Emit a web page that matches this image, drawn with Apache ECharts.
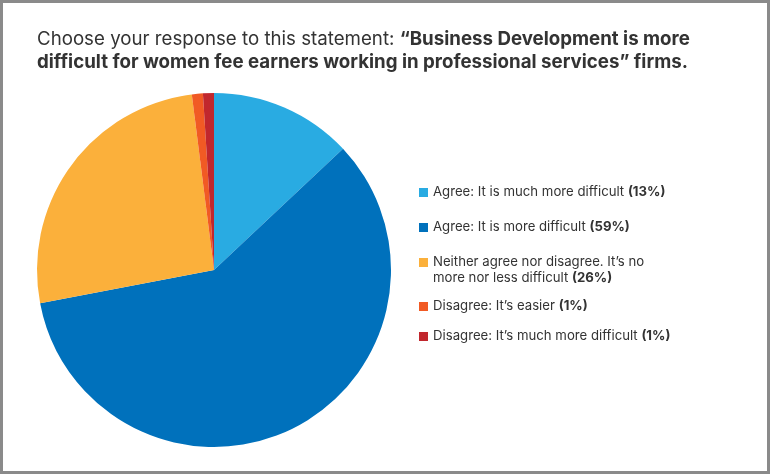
<!DOCTYPE html>
<html>
<head>
<meta charset="utf-8">
<script src="https://cdn.jsdelivr.net/npm/echarts@6/dist/echarts.min.js"></script>
<style>
html,body{margin:0;padding:0;background:#fff;}
#wrap{position:relative;width:770px;height:474px;}
#chart{position:absolute;left:0;top:0;width:770px;height:474px;}
#frame{position:absolute;left:0;top:0;width:770px;height:474px;box-sizing:border-box;border:3px solid #8a8a8a;pointer-events:none;}
</style>
</head>
<body>
<div id="wrap"><div id="chart"></div><div id="frame"></div></div>
<script>
const titleRegular = "Choose your response to this statement: ";
const titleBold1 = "\u201cBusiness Development is more";
const titleBold2 = "difficult for women fee earners working in professional services\u201d firms.";
const categories = [
  "Agree: It is much more difficult",
  "Agree: It is more difficult",
  "Neither agree nor disagree. It\u2019s no\nmore nor less difficult",
  "Disagree: It\u2019s easier",
  "Disagree: It\u2019s much more difficult"
];
const values = [13, 59, 26, 1, 1];
const colors = ["#29abe2", "#0071bc", "#fbb03b", "#f15a24", "#c1272d"];

const FONT = "Inter";
const LFS = 13.2;
const legendTops = [181, 216, 251, 295, 325];

const chart = echarts.init(document.getElementById('chart'), null, {renderer: 'canvas'});

const legends = categories.map((c, i) => ({
  orient: 'vertical',
  left: 414,
  top: legendTops[i],
  data: [c],
  icon: 'rect',
  itemWidth: 9,
  itemHeight: 9,
  itemGap: 0,
  selectedMode: false,
  formatter: function (name) {
    const idx = categories.indexOf(name);
    const lines = name.split('\n');
    const last = lines.pop();
    const pre = lines.map(l => '{n|' + l + '}').join('\n');
    return (pre ? pre + '\n' : '') + '{n|' + last + ' }{b|(' + values[idx] + '%)}';
  },
  textStyle: {
    fontFamily: FONT,
    fontSize: LFS,
    color: '#333',
    padding: i === 2 ? [16, 0, 0, 0] : 0,
    rich: {
      n: {fontFamily: FONT, fontSize: LFS, color: '#333', lineHeight: 16},
      b: {fontFamily: FONT, fontSize: LFS, color: '#333', fontWeight: 'bold', lineHeight: 16}
    }
  }
}));

chart.setOption({
  animation: false,
  color: colors,
  title: {
    left: 32,
    top: 23,
    text: '{r|' + titleRegular + '}{b|' + titleBold1 + '}\n{b|' + titleBold2 + '}',
    textStyle: {
      rich: {
        r: {fontFamily: FONT, fontSize: 18.7, color: '#333', fontWeight: 'normal', lineHeight: 23},
        b: {fontFamily: FONT, fontSize: 18.7, color: '#333', fontWeight: 'bold', lineHeight: 23}
      }
    }
  },
  legend: legends,
  series: [{
    type: 'pie',
    center: [214, 270],
    radius: 177,
    startAngle: 90,
    clockwise: true,
    label: {show: false},
    labelLine: {show: false},
    itemStyle: {borderWidth: 0},
    emphasis: {disabled: true},
    data: categories.map((c, i) => ({name: c, value: values[i]}))
  }]
});
</script>
</body>
</html>
